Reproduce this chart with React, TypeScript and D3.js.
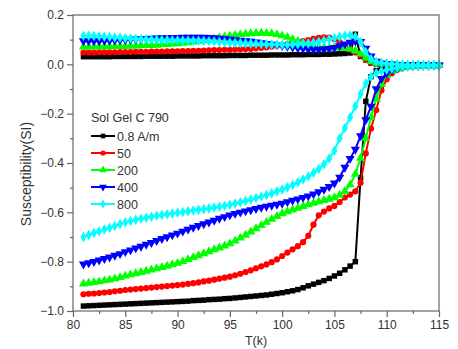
import React, { useEffect, useRef } from "react";
import * as d3 from "d3";

// temperature grid (K) shared by every branch
const temps = [
  81, 81.5, 82, 82.5, 83, 83.5, 84, 84.5, 85, 85.5,
  86, 86.5, 87, 87.5, 88, 88.5, 89, 89.5, 90, 90.5,
  91, 91.5, 92, 92.5, 93, 93.5, 94, 94.5, 95, 95.5,
  96, 96.5, 97, 97.5, 98, 98.5, 99, 99.5, 100, 100.5,
  101, 101.5, 102, 102.5, 103, 103.5, 104, 104.5, 105, 105.5,
  106, 106.5, 107, 107.5, 108, 108.5, 109, 109.5, 110, 110.5,
  111, 111.5, 112, 112.5, 113, 113.5, 114, 114.5, 115,
];

const fieldLabels = ["0.8 A/m", "50", "200", "400", "800"];
const fieldColors = ["#000000", "#ff0000", "#00ff00", "#0000ff", "#00ffff"];
const legendTitle = "Sol Gel C 790";

const xTicks = [80, 85, 90, 95, 100, 105, 110, 115];
const yTicks = [-1.0, -0.8, -0.6, -0.4, -0.2, 0.0, 0.2];

// 0.8 A/m
const lower08 = [
  -0.980, -0.979, -0.978, -0.977, -0.976, -0.975, -0.974, -0.973, -0.972, -0.971,
  -0.970, -0.969, -0.968, -0.967, -0.966, -0.965, -0.964, -0.963, -0.962, -0.961,
  -0.960, -0.958, -0.957, -0.956, -0.954, -0.953, -0.952, -0.950, -0.949, -0.947,
  -0.945, -0.943, -0.941, -0.939, -0.937, -0.935, -0.932, -0.929, -0.926, -0.922,
  -0.918, -0.913, -0.906, -0.898, -0.891, -0.884, -0.877, -0.868, -0.858, -0.847,
  -0.833, -0.818, -0.800, -0.460, -0.150, -0.050, -0.025, -0.018, -0.014, -0.011,
  -0.009, -0.008, -0.007, -0.006, -0.006, -0.005, -0.005, -0.005, -0.004,
];
const upper08 = [
  0.031, 0.031, 0.031, 0.031, 0.031, 0.031, 0.032, 0.032, 0.032, 0.032,
  0.032, 0.032, 0.033, 0.033, 0.033, 0.033, 0.033, 0.033, 0.034, 0.034,
  0.034, 0.034, 0.034, 0.035, 0.035, 0.035, 0.035, 0.035, 0.036, 0.036,
  0.036, 0.036, 0.037, 0.037, 0.037, 0.037, 0.038, 0.038, 0.038, 0.038,
  0.039, 0.039, 0.039, 0.040, 0.040, 0.040, 0.041, 0.041, 0.042, 0.043,
  0.044, 0.046, 0.122, 0.032, 0.018, 0.005, 0.002, 0.001, 0.000, -0.001,
  -0.002, -0.002, -0.003, -0.003, -0.003, -0.003, -0.004, -0.004, -0.004,
];

// 50 A/m
const lower50 = [
  -0.932, -0.930, -0.929, -0.927, -0.925, -0.923, -0.920, -0.918, -0.915, -0.913,
  -0.911, -0.909, -0.907, -0.905, -0.903, -0.901, -0.899, -0.897, -0.895, -0.893,
  -0.890, -0.887, -0.884, -0.880, -0.877, -0.873, -0.869, -0.865, -0.861, -0.855,
  -0.849, -0.842, -0.835, -0.827, -0.819, -0.811, -0.802, -0.791, -0.777, -0.763,
  -0.750, -0.737, -0.721, -0.695, -0.650, -0.612, -0.597, -0.584, -0.574, -0.558,
  -0.540, -0.528, -0.515, -0.480, -0.361, -0.260, -0.185, -0.105, -0.060, -0.036,
  -0.022, -0.014, -0.010, -0.008, -0.006, -0.005, -0.005, -0.005, -0.004,
];
const upper50 = [
  0.048, 0.048, 0.048, 0.049, 0.049, 0.049, 0.049, 0.050, 0.050, 0.050,
  0.051, 0.051, 0.051, 0.052, 0.052, 0.052, 0.053, 0.053, 0.053, 0.054,
  0.054, 0.055, 0.055, 0.056, 0.057, 0.058, 0.058, 0.059, 0.059, 0.060,
  0.061, 0.062, 0.063, 0.065, 0.067, 0.069, 0.072, 0.075, 0.078, 0.082,
  0.086, 0.090, 0.094, 0.098, 0.103, 0.107, 0.109, 0.108, 0.102, 0.090,
  0.075, 0.060, 0.048, 0.036, 0.020, 0.008, 0.004, 0.002, 0.001, 0.000,
  -0.001, -0.002, -0.003, -0.003, -0.003, -0.004, -0.004, -0.004, -0.004,
];

// 200 A/m
const lower200 = [
  -0.890, -0.887, -0.884, -0.881, -0.877, -0.874, -0.869, -0.864, -0.858, -0.853,
  -0.848, -0.843, -0.838, -0.833, -0.828, -0.823, -0.818, -0.812, -0.806, -0.799,
  -0.791, -0.783, -0.775, -0.767, -0.759, -0.751, -0.744, -0.736, -0.727, -0.716,
  -0.704, -0.692, -0.679, -0.666, -0.653, -0.640, -0.628, -0.616, -0.605, -0.597,
  -0.590, -0.583, -0.576, -0.569, -0.563, -0.557, -0.551, -0.546, -0.540, -0.530,
  -0.515, -0.488, -0.445, -0.380, -0.300, -0.215, -0.140, -0.080, -0.045, -0.028,
  -0.018, -0.012, -0.009, -0.007, -0.006, -0.005, -0.005, -0.004, -0.004,
];
const upper200 = [
  0.071, 0.071, 0.071, 0.072, 0.072, 0.072, 0.073, 0.073, 0.073, 0.074,
  0.075, 0.076, 0.077, 0.077, 0.078, 0.080, 0.081, 0.083, 0.084, 0.086,
  0.088, 0.091, 0.094, 0.097, 0.100, 0.104, 0.108, 0.112, 0.115, 0.118,
  0.121, 0.123, 0.125, 0.126, 0.127, 0.126, 0.125, 0.121, 0.116, 0.110,
  0.102, 0.094, 0.086, 0.079, 0.074, 0.070, 0.068, 0.067, 0.067, 0.067,
  0.066, 0.063, 0.055, 0.042, 0.026, 0.012, 0.005, 0.003, 0.002, 0.000,
  -0.001, -0.002, -0.003, -0.003, -0.003, -0.004, -0.004, -0.004, -0.004,
];

// 400 A/m
const lower400 = [
  -0.810, -0.805, -0.800, -0.794, -0.788, -0.782, -0.775, -0.768, -0.760, -0.753,
  -0.745, -0.738, -0.730, -0.723, -0.715, -0.707, -0.700, -0.692, -0.685, -0.677,
  -0.669, -0.661, -0.654, -0.647, -0.640, -0.633, -0.625, -0.618, -0.611, -0.605,
  -0.600, -0.595, -0.590, -0.585, -0.580, -0.576, -0.572, -0.568, -0.564, -0.558,
  -0.552, -0.546, -0.540, -0.534, -0.526, -0.517, -0.507, -0.496, -0.482, -0.458,
  -0.418, -0.382, -0.345, -0.290, -0.225, -0.170, -0.100, -0.058, -0.036, -0.024,
  -0.016, -0.011, -0.008, -0.007, -0.006, -0.005, -0.005, -0.004, -0.004,
];
const upper400 = [
  0.095, 0.095, 0.095, 0.095, 0.096, 0.097, 0.098, 0.099, 0.100, 0.101,
  0.102, 0.103, 0.104, 0.105, 0.106, 0.107, 0.107, 0.108, 0.108, 0.109,
  0.109, 0.109, 0.109, 0.109, 0.108, 0.107, 0.105, 0.103, 0.101, 0.099,
  0.097, 0.095, 0.093, 0.090, 0.087, 0.084, 0.081, 0.078, 0.075, 0.072,
  0.069, 0.066, 0.064, 0.062, 0.061, 0.061, 0.062, 0.064, 0.068, 0.075,
  0.082, 0.089, 0.094, 0.092, 0.065, 0.033, 0.012, 0.005, 0.003, 0.001,
  -0.001, -0.002, -0.003, -0.003, -0.003, -0.004, -0.004, -0.004, -0.004,
];

// 800 A/m
const lower800 = [
  -0.700, -0.692, -0.684, -0.677, -0.670, -0.663, -0.655, -0.647, -0.640, -0.635,
  -0.630, -0.626, -0.622, -0.618, -0.614, -0.611, -0.608, -0.605, -0.602, -0.599,
  -0.596, -0.593, -0.590, -0.587, -0.584, -0.580, -0.577, -0.573, -0.569, -0.564,
  -0.559, -0.554, -0.548, -0.542, -0.536, -0.530, -0.523, -0.515, -0.507, -0.498,
  -0.489, -0.478, -0.467, -0.455, -0.440, -0.424, -0.405, -0.382, -0.350, -0.300,
  -0.258, -0.215, -0.170, -0.120, -0.078, -0.050, -0.035, -0.027, -0.022, -0.018,
  -0.014, -0.010, -0.008, -0.007, -0.006, -0.005, -0.005, -0.004, -0.004,
];
const upper800 = [
  0.116, 0.116, 0.115, 0.114, 0.112, 0.111, 0.109, 0.108, 0.106, 0.105,
  0.104, 0.103, 0.102, 0.101, 0.100, 0.099, 0.099, 0.098, 0.098, 0.097,
  0.097, 0.096, 0.096, 0.095, 0.094, 0.093, 0.091, 0.089, 0.088, 0.087,
  0.086, 0.085, 0.084, 0.083, 0.082, 0.081, 0.080, 0.080, 0.079, 0.079,
  0.080, 0.081, 0.083, 0.085, 0.088, 0.092, 0.097, 0.102, 0.107, 0.112,
  0.116, 0.118, 0.113, 0.090, 0.050, 0.022, 0.010, 0.005, 0.003, 0.001,
  -0.001, -0.002, -0.003, -0.003, -0.003, -0.004, -0.004, -0.004, -0.004,
];

const lowerBranches = [lower08, lower50, lower200, lower400, lower800];
const upperBranches = [upper08, upper50, upper200, upper400, upper800];

const FONT = "'Liberation Sans', Arial, sans-serif";

export default function App() {
  const svgRef = useRef<SVGSVGElement>(null);

  useEffect(() => {
    const width = 458;
    const height = 349;
    const left = 73;
    const right = 439;
    const top = 15;
    const bottom = 311;

    const svg = d3.select(svgRef.current);
    svg.selectAll("*").remove();
    svg.attr("width", width).attr("height", height);

    svg.append("rect").attr("width", width).attr("height", height).attr("fill", "#fff");

    const x = d3.scaleLinear().domain([80, 115]).range([left, right]);
    const y = d3.scaleLinear().domain([-1.0, 0.2]).range([bottom, top]);

    // symbols: square, circle, up-triangle, down-triangle, diamond
    const markers = [
      { type: d3.symbolSquare, size: 30, rot: 0 },
      { type: d3.symbolCircle, size: 30, rot: 0 },
      { type: d3.symbolTriangle, size: 36, rot: 0 },
      { type: d3.symbolTriangle, size: 36, rot: 180 },
      { type: d3.symbolDiamond, size: 32, rot: 0 },
    ];

    const line = d3
      .line<number>()
      .x((_, i) => x(temps[i]))
      .y((d) => y(d));

    const plot = svg.append("g");

    fieldLabels.forEach((_, k) => {
      const color = fieldColors[k];
      const m = markers[k];
      const sym = d3.symbol().type(m.type).size(m.size);
      [lowerBranches[k], upperBranches[k]].forEach((branch) => {
        plot
          .append("path")
          .attr("d", line(branch))
          .attr("fill", "none")
          .attr("stroke", color)
          .attr("stroke-width", 2);
        plot
          .append("g")
          .selectAll("path")
          .data(branch)
          .join("path")
          .attr("d", sym)
          .attr(
            "transform",
            (d, i) => `translate(${x(temps[i])},${y(d)}) rotate(${m.rot})`
          )
          .attr("fill", color);
      });
    });

    // frame
    svg
      .append("rect")
      .attr("x", left)
      .attr("y", top)
      .attr("width", right - left)
      .attr("height", bottom - top)
      .attr("fill", "none")
      .attr("stroke", "#666")
      .attr("stroke-width", 1.2);

    // x axis
    const xAxis = d3
      .axisBottom(x)
      .tickValues(xTicks)
      .tickSize(6)
      .tickSizeOuter(0)
      .tickPadding(3)
      .tickFormat(d3.format("d"));
    const gx = svg.append("g").attr("transform", `translate(0,${bottom})`).call(xAxis);
    gx.select(".domain").remove();
    gx.selectAll("line").attr("stroke", "#666").attr("stroke-width", 1.2);
    gx.selectAll("text")
      .attr("fill", "#333")
      .style("font-family", FONT)
      .style("font-size", "12px");

    const xMinor = d3
      .axisBottom(x)
      .tickValues(xTicks.slice(0, -1).map((t) => t + 2.5))
      .tickSize(3)
      .tickFormat(() => "");
    const gxm = svg.append("g").attr("transform", `translate(0,${bottom})`).call(xMinor);
    gxm.select(".domain").remove();
    gxm.selectAll("line").attr("stroke", "#666").attr("stroke-width", 1.2);

    // y axis
    const yAxis = d3
      .axisLeft(y)
      .tickValues(yTicks)
      .tickSize(6)
      .tickSizeOuter(0)
      .tickPadding(3)
      .tickFormat(d3.format(".1f"));
    const gy = svg.append("g").attr("transform", `translate(${left},0)`).call(yAxis);
    gy.select(".domain").remove();
    gy.selectAll("line").attr("stroke", "#666").attr("stroke-width", 1.2);
    gy.selectAll("text")
      .attr("fill", "#333")
      .style("font-family", FONT)
      .style("font-size", "12px");

    const yMinor = d3
      .axisLeft(y)
      .tickValues(yTicks.slice(0, -1).map((t) => t + 0.1))
      .tickSize(3)
      .tickFormat(() => "");
    const gym = svg.append("g").attr("transform", `translate(${left},0)`).call(yMinor);
    gym.select(".domain").remove();
    gym.selectAll("line").attr("stroke", "#666").attr("stroke-width", 1.2);

    // axis titles
    svg
      .append("text")
      .attr("transform", `translate(31,${(top + bottom) / 2 + 11}) rotate(-90)`)
      .attr("text-anchor", "middle")
      .attr("fill", "#333")
      .style("font-family", FONT)
      .style("font-size", "14px")
      .text("Susceptibility(SI)");

    svg
      .append("text")
      .attr("x", (left + right) / 2)
      .attr("y", 345)
      .attr("text-anchor", "middle")
      .attr("fill", "#333")
      .style("font-family", FONT)
      .style("font-size", "12.5px")
      .text("T(k)");

    // legend
    const lg = svg.append("g");
    lg.append("text")
      .attr("x", 91)
      .attr("y", 122)
      .attr("fill", "#333")
      .style("font-family", FONT)
      .style("font-size", "12.5px")
      .text(legendTitle);

    fieldLabels.forEach((label, k) => {
      const cy = 136 + k * 17;
      const m = markers[k];
      lg.append("line")
        .attr("x1", 91)
        .attr("x2", 115)
        .attr("y1", cy)
        .attr("y2", cy)
        .attr("stroke", fieldColors[k])
        .attr("stroke-width", 2);
      lg.append("path")
        .attr("d", d3.symbol().type(m.type).size(m.size * 0.7)())
        .attr("transform", `translate(103,${cy}) rotate(${m.rot})`)
        .attr("fill", fieldColors[k]);
      lg.append("text")
        .attr("x", 117)
        .attr("y", cy + 4.5)
        .attr("fill", "#333")
        .style("font-family", FONT)
        .style("font-size", "12.5px")
        .text(label);
    });
  }, []);

  return (
    <svg
      ref={svgRef}
      style={{ position: "absolute", left: 0, top: 0, display: "block" }}
    />
  );
}
